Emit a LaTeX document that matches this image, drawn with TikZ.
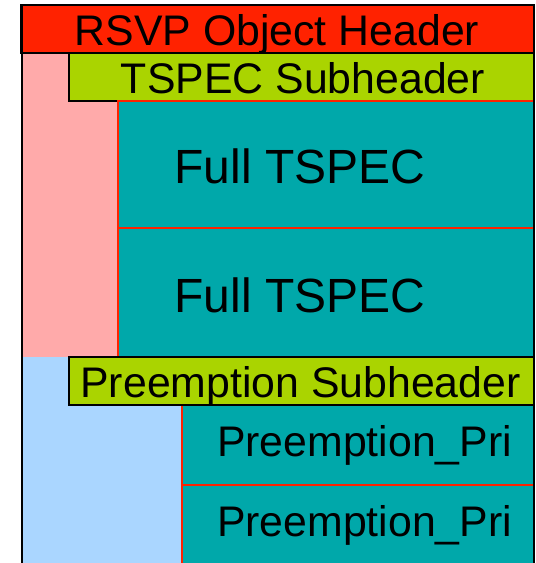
\documentclass[tikz,border=0pt]{standalone}
\usepackage{fontspec}
\setmainfont{Liberation Sans}
\definecolor{hdrred}{HTML}{FF2200}
\definecolor{lime}{HTML}{AAD400}
\definecolor{pinkbg}{HTML}{FFAAAA}
\definecolor{bluebg}{HTML}{AAD6FF}
\definecolor{tealbox}{HTML}{00A8AA}
\definecolor{edgered}{HTML}{FF2200}
\tikzset{
  region/.style={rectangle, anchor=north west, inner sep=0pt, outer sep=0pt, draw=none},
  blackbox/.style={rectangle, anchor=north west, inner sep=0pt, outer sep=0pt, draw=black, line width=2pt},
  redbox/.style={rectangle, anchor=north west, inner sep=0pt, outer sep=0pt, draw=edgered, line width=1.5pt, fill=tealbox},
  lbl/.style={anchor=base, inner sep=0pt, font=\fontsize{42.8}{48}\selectfont},
  biglbl/.style={anchor=base, inner sep=0pt, font=\fontsize{48}{54}\selectfont},
}
\begin{document}
\begin{tikzpicture}[x=1pt, y=-1pt]
\useasboundingbox (0,0) rectangle (536,563);
\clip (0,0) rectangle (536,563);
\fill[white] (0,0) rectangle (536,563);
% background regions
\node[region, fill=pinkbg, minimum width=97pt, minimum height=304pt] (pink) at (21,53) {};
\node[region, fill=bluebg, minimum width=161pt, minimum height=215pt] (blue) at (21,357) {};
% headers
\node[blackbox, fill=hdrred, minimum width=513pt, minimum height=48pt] (rsvp) at (21,5) {};
\node[blackbox, fill=lime, minimum width=465pt, minimum height=48pt] (tsub) at (69,53) {};
% full TSPEC blocks
\node[redbox, minimum width=416pt, minimum height=127pt] (ft1) at (118,101) {};
\node[redbox, minimum width=416pt, minimum height=129pt] (ft2) at (118,228) {};
% preemption blocks
\node[redbox, minimum width=352pt, minimum height=80pt] (pp1) at (182,405) {};
\node[redbox, minimum width=352pt, minimum height=90pt] (pp2) at (182,485) {};
\node[blackbox, fill=lime, minimum width=465pt, minimum height=48pt] (psub) at (69,357) {};
% outer frame
\coordinate (fbl) at (21.5,580);
\coordinate (ftl) at (21.5,5);
\coordinate (ftr) at (534,5);
\coordinate (fbr) at (534,580);
\draw[black, line width=2pt] (fbl) -- (ftl) -- (ftr) -- (fbr);
% labels
\node[lbl] (trsvp) at (277,45.5) {RSVP Object Header};
\node[lbl] (ttsub) at (303,93) {TSPEC Subheader};
\node[biglbl] (tft1) at (300,183) {Full TSPEC};
\node[biglbl] (tft2) at (300,312) {Full TSPEC};
\node[lbl] (tpsub) at (300.5,397) {Preemption Subheader};
\node[lbl] (tpp1) at (364.5,456) {Preemption\_Pri};
\node[lbl] (tpp2) at (364.5,536) {Preemption\_Pri};
\end{tikzpicture}
\end{document}
